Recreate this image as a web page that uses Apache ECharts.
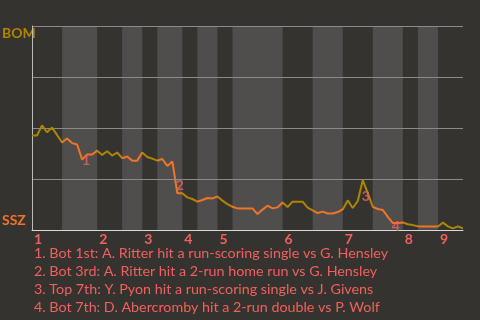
<!DOCTYPE html>
<html>
<head>
<meta charset="utf-8">
<script src="https://cdn.jsdelivr.net/npm/echarts@6/dist/echarts.min.js"></script>
<style>
html,body{margin:0;padding:0;background:#35332f;}
#chart{width:480px;height:320px;}
</style>
</head>
<body>
<div id="chart"></div>
<script>
// Win probability toward BOM (1 = BOM wins, 0 = SSZ wins), one value per plate appearance
var winProb = [
  0.463, 0.463, 0.513, 0.479, 0.502, 0.466, 0.429, 0.449, 0.426, 0.419,
  0.346, 0.370, 0.370, 0.389, 0.368, 0.386, 0.365, 0.380, 0.352, 0.360,
  0.340, 0.340, 0.380, 0.358, 0.350, 0.340, 0.348, 0.314, 0.336, 0.180,
  0.180, 0.160, 0.152, 0.139, 0.147, 0.157, 0.155, 0.164, 0.144, 0.127,
  0.114, 0.106, 0.106, 0.106, 0.106, 0.078, 0.100, 0.119, 0.106, 0.111,
  0.135, 0.113, 0.139, 0.139, 0.139, 0.110, 0.096, 0.083, 0.090, 0.081,
  0.081, 0.088, 0.101, 0.145, 0.108, 0.142, 0.244, 0.181, 0.113, 0.103,
  0.098, 0.064, 0.034, 0.034, 0.037, 0.028, 0.024, 0.018, 0.017, 0.017,
  0.017, 0.017, 0.036, 0.018, 0.008, 0.018, 0.008
];
// Half-inning boundaries (plate appearance index), starting with top of 1st
var halfInningStarts = [0, 6, 13, 18, 22, 25, 30, 33, 37, 40, 50, 56, 62, 68, 74, 77, 81, 86];
var inningLabels = ['1','2','3','4','5','6','7','8','9'];
// Key events: number, x (PA index), win probability position of marker
var eventNums = ['1','2','3','4'];
var eventX = [10.8, 29.5, 66.6, 72.6];
var eventY = [0.343, 0.216, 0.162, 0.015];
var eventTexts = [
  '1. Bot 1st: A. Ritter hit a run-scoring single vs G. Hensley',
  '2. Bot 3rd: A. Ritter hit a 2-run home run vs G. Hensley',
  '3. Top 7th: Y. Pyon hit a run-scoring single vs J. Givens',
  '4. Bot 7th: D. Abercromby hit a 2-run double vs P. Wolf'
];
var awayTeam = 'BOM', homeTeam = 'SSZ';

var GOLD = '#ad8600', ORANGE = '#f07428', SALMON = '#f0605e';
var BAND = '#504e4c';

var lineData = winProb.map(function (v, i) { return [i, v]; });
var totalPA = halfInningStarts[halfInningStarts.length - 1];

var bands = [];
var pieces = [];
for (var h = 0; h < halfInningStarts.length - 1; h++) {
  var a = halfInningStarts[h], b = halfInningStarts[h + 1];
  var isBottom = h % 2 === 1;
  if (isBottom) bands.push([{ xAxis: a }, { xAxis: b }]);
  var p = { gte: a, color: isBottom ? ORANGE : GOLD };
  if (h === halfInningStarts.length - 2) p.lte = b; else p.lt = b;
  pieces.push(p);
}
var inningStartValues = [];
for (var k = 0; k < halfInningStarts.length - 1; k += 2) inningStartValues.push(halfInningStarts[k]);

var eventData = eventNums.map(function (n, i) { return { value: [eventX[i], eventY[i]], name: n }; });

var graphics = [
  { type: 'text', left: 2, top: 26, style: { text: awayTeam, fill: GOLD, font: 'bold 14px Lato' } },
  { type: 'text', left: 2, top: 213, style: { text: homeTeam, fill: ORANGE, font: 'bold 14px Lato' } }
];
eventTexts.forEach(function (t, i) {
  graphics.push({ type: 'text', left: 34, top: 246 + i * 18, style: { text: t, fill: SALMON, font: '14.3px Lato' } });
});

var chart = echarts.init(document.getElementById('chart'), null, { renderer: 'canvas' });
chart.setOption({
  backgroundColor: '#35332f',
  animation: false,
  grid: { left: 32, right: 17, top: 26, bottom: 90 },
  xAxis: {
    type: 'value', min: 0, max: totalPA, z: 5,
    splitLine: { show: false },
    axisTick: { show: false },
    axisLine: { show: true, lineStyle: { color: '#d8d8d8', width: 1 } },
    axisLabel: {
      customValues: inningStartValues,
      formatter: function (v) { return inningLabels[inningStartValues.indexOf(v)] || ''; },
      color: SALMON, fontWeight: 'bold', fontSize: 14, fontFamily: 'Lato',
      align: 'left', margin: 2, padding: [0, 0, 0, 2]
    }
  },
  yAxis: {
    type: 'value', min: 0, max: 1, interval: 0.25, z: 5,
    axisLabel: { show: false },
    axisTick: { show: false },
    axisLine: { show: true, lineStyle: { color: '#bdbdbd', width: 1 } },
    splitLine: { show: true, lineStyle: { color: '#8a8a88', width: 1 } }
  },
  visualMap: {
    show: false, type: 'piecewise', dimension: 0, seriesIndex: 1, pieces: pieces
  },
  series: [
    {
      type: 'line', data: [], silent: true, z: 1,
      markArea: { silent: true, itemStyle: { color: BAND }, data: bands }
    },
    {
      type: 'line', data: lineData, symbol: 'none', z: 8,
      lineStyle: { width: 2 }
    },
    {
      type: 'scatter', data: eventData, symbolSize: 0, z: 9, silent: true,
      label: {
        show: true, position: 'inside', formatter: function (p) { return p.name; },
        color: SALMON, fontWeight: 'bold', fontSize: 14, fontFamily: 'Lato'
      }
    }
  ],
  graphic: graphics
});
</script>
</body>
</html>
